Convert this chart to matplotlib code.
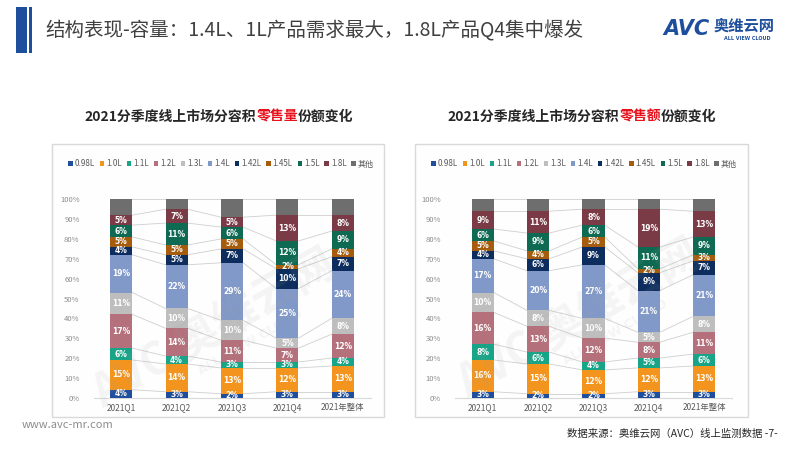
import matplotlib
matplotlib.use("Agg")
import matplotlib.pyplot as plt
from matplotlib.patches import Rectangle, Patch
import numpy as np

plt.rcParams['font.family'] = ['Noto Sans CJK SC', 'DejaVu Sans']

categories = ['2021Q1', '2021Q2', '2021Q3', '2021Q4', '2021年整体']
series_names = ['0.98L', '1.0L', '1.1L', '1.2L', '1.3L', '1.4L', '1.42L', '1.45L', '1.5L', '1.8L', '其他']
colors = ['#1F4E9C', '#F3941E', '#17A487', '#B4707B', '#BEBEBE', '#8199C9',
          '#0C2D5E', '#A55C0C', '#0E6A52', '#7A3B47', '#6E6E6E']

# Left: retail volume share (%)
vol_098 = [4, 3, 2, 3, 3]
vol_100 = [15, 14, 13, 12, 13]
vol_110 = [6, 4, 3, 3, 4]
vol_120 = [17, 14, 11, 7, 12]
vol_130 = [11, 10, 10, 5, 8]
vol_140 = [19, 22, 29, 25, 24]
vol_142 = [4, 5, 7, 10, 7]
vol_145 = [5, 5, 5, 2, 4]
vol_150 = [6, 11, 6, 12, 9]
vol_180 = [5, 7, 5, 13, 8]
vol_other = [8, 5, 9, 8, 8]

# Right: retail value share (%)
val_098 = [3, 2, 2, 3, 3]
val_100 = [16, 15, 12, 12, 13]
val_110 = [8, 6, 4, 5, 6]
val_120 = [16, 13, 12, 8, 11]
val_130 = [10, 8, 10, 5, 8]
val_140 = [17, 20, 27, 21, 21]
val_142 = [4, 6, 9, 9, 7]
val_145 = [5, 4, 5, 2, 3]
val_150 = [6, 9, 6, 11, 9]
val_180 = [9, 11, 8, 19, 13]
val_other = [6, 6, 5, 5, 6]

volume = [vol_098, vol_100, vol_110, vol_120, vol_130, vol_140, vol_142, vol_145, vol_150, vol_180, vol_other]
value = [val_098, val_100, val_110, val_120, val_130, val_140, val_142, val_145, val_150, val_180, val_other]

W, H = 800, 450
fig = plt.figure(figsize=(8, 4.5), dpi=100)
fig.patch.set_facecolor('white')

def fx(px):
    return px / W

def fy(py):
    return 1 - py / H

# header decoration
fig.patches.append(Rectangle((fx(16), fy(53)), fx(11), (53 - 7) / H, transform=fig.transFigure,
                             facecolor='#1E4F9C', edgecolor='none'))
fig.patches.append(Rectangle((fx(29), fy(53)), fx(2.5), (53 - 7) / H, transform=fig.transFigure,
                             facecolor='#1E4F9C', edgecolor='none'))
fig.text(fx(45), fy(31), '结构表现-容量：1.4L、1L产品需求最大，1.8L产品Q4集中爆发',
         fontsize=14, color='#404040', va='center', ha='left')

# logo
fig.text(fx(663), fy(29), 'AVC', fontsize=15, color='#1E4F9C', fontweight='bold',
         fontstyle='italic', va='center', ha='left', family=['DejaVu Sans'])
fig.text(fx(744), fy(26), '奥维云网', fontsize=11, color='#1E4F9C', fontweight='bold',
         va='center', ha='center')
fig.text(fx(747), fy(38), 'ALL VIEW CLOUD', fontsize=3.5, color='#1E4F9C', fontweight='bold',
         va='center', ha='center', family=['DejaVu Sans'])

# footer
fig.text(fx(22), fy(425), 'www.avc-mr.com', fontsize=8, color='#8C8C8C', va='center', ha='left')
fig.text(fx(778), fy(434), '数据来源：奥维云网（AVC）线上监测数据 -7-', fontsize=7.5, color='#262626',
         va='center', ha='right')


def multi_text(xc, y, parts, **kw):
    renderer = fig.canvas.get_renderer()
    texts = []
    widths = []
    for s, c in parts:
        t = fig.text(0, fy(y), s, color=c, va='center', ha='left', **kw)
        bb = t.get_window_extent(renderer=renderer)
        texts.append(t)
        widths.append(bb.width)
    total = sum(widths)
    x0 = xc - total / 2
    for t, w in zip(texts, widths):
        t.set_x(fx(x0))
        x0 += w


panels = [
    dict(box=(52, 144, 384, 417), ax_l=93.5, ax_r=370.5, leg_x=221, title_x=219,
         data=volume, key='零售量'),
    dict(box=(415, 144, 748, 417), ax_l=455, ax_r=732, leg_x=584, title_x=582,
         data=value, key='零售额'),
]

bar_w = 0.4
for p in panels:
    x0, y0, x1, y1 = p['box']
    fig.patches.append(Rectangle((fx(x0), fy(y1)), fx(x1 - x0), (y1 - y0) / H,
                                 transform=fig.transFigure, facecolor='#FEFEFE',
                                 edgecolor='#D9D9D9', linewidth=1.0, zorder=-5))
    multi_text(p['title_x'], 117, [('2021分季度线上市场分容积', '#262626'), (p['key'], '#E8111B'),
                                   ('份额变化', '#262626')], fontsize=10, fontweight='bold')

    ax = fig.add_axes([fx(p['ax_l']), fy(397.7), fx(p['ax_r'] - p['ax_l']), (397.7 - 199.3) / H])
    ax.set_zorder(2)
    ax.set_facecolor('none')
    xs = np.arange(len(categories))
    data = np.array(p['data'], dtype=float)
    bottoms = np.zeros(len(categories))
    for i, (name, col) in enumerate(zip(series_names, colors)):
        vals = data[i]
        ax.bar(xs, vals, bar_w, bottom=bottoms, color=col, edgecolor='none', zorder=3, label=name)
        if name != '其他':
            for xi, v, b in zip(xs, vals, bottoms):
                ax.text(xi, b + v / 2, f'{int(round(v))}%', ha='center', va='center',
                        color='white', fontsize=5.5, fontweight='bold', zorder=5,
                        family=['DejaVu Sans'])
        bottoms = bottoms + vals
        # series lines
        for j in range(len(xs) - 1):
            ax.plot([xs[j] + bar_w / 2, xs[j + 1] - bar_w / 2], [bottoms[j], bottoms[j + 1]],
                    color='#CFCFCF', linewidth=0.6, zorder=2)
    ax.set_xlim(-0.5, len(categories) - 0.5)
    ax.set_ylim(0, 100)
    ax.set_yticks(np.arange(0, 101, 10))
    ax.set_yticklabels([f'{v}%' for v in range(0, 101, 10)], fontsize=5.5, color='#8C8C8C')
    ax.set_xticks(xs)
    ax.set_xticklabels(categories, fontsize=6, color='#595959')
    ax.tick_params(axis='x', length=0, pad=4)
    ax.tick_params(axis='y', length=0, pad=10)
    for s in ['top', 'right', 'left']:
        ax.spines[s].set_visible(False)
    ax.spines['bottom'].set_color('#D9D9D9')
    ax.spines['bottom'].set_linewidth(0.8)

    handles = [Patch(facecolor=c, edgecolor='none') for c in colors]
    fig.legend(handles, series_names, loc='center', bbox_to_anchor=(fx(p['leg_x']), fy(164)),
               ncol=11, fontsize=5.8, frameon=False, handlelength=0.55, handleheight=0.55,
               handletextpad=0.25, columnspacing=0.6, labelcolor='#595959', borderpad=0)

# faint watermarks on top
wm = fig.add_axes([0, 0, 1, 1], zorder=10)
wm.set_axis_off()
wm.set_xlim(0, W)
wm.set_ylim(H, 0)
for (x, y) in [(215, 330), (580, 320)]:
    wm.text(x, y, 'AVC 奥维云网', fontsize=32, color='#A0A0A0', alpha=0.10,
            rotation=30, ha='center', va='center', fontweight='bold')
    wm.text(x + 35, y + 12, 'ALL VIEW CLOUD', fontsize=9, color='#A0A0A0', alpha=0.10,
            rotation=30, ha='center', va='center', fontweight='bold', family=['DejaVu Sans'])

fig.savefig('out.png', dpi=100, facecolor='white')
